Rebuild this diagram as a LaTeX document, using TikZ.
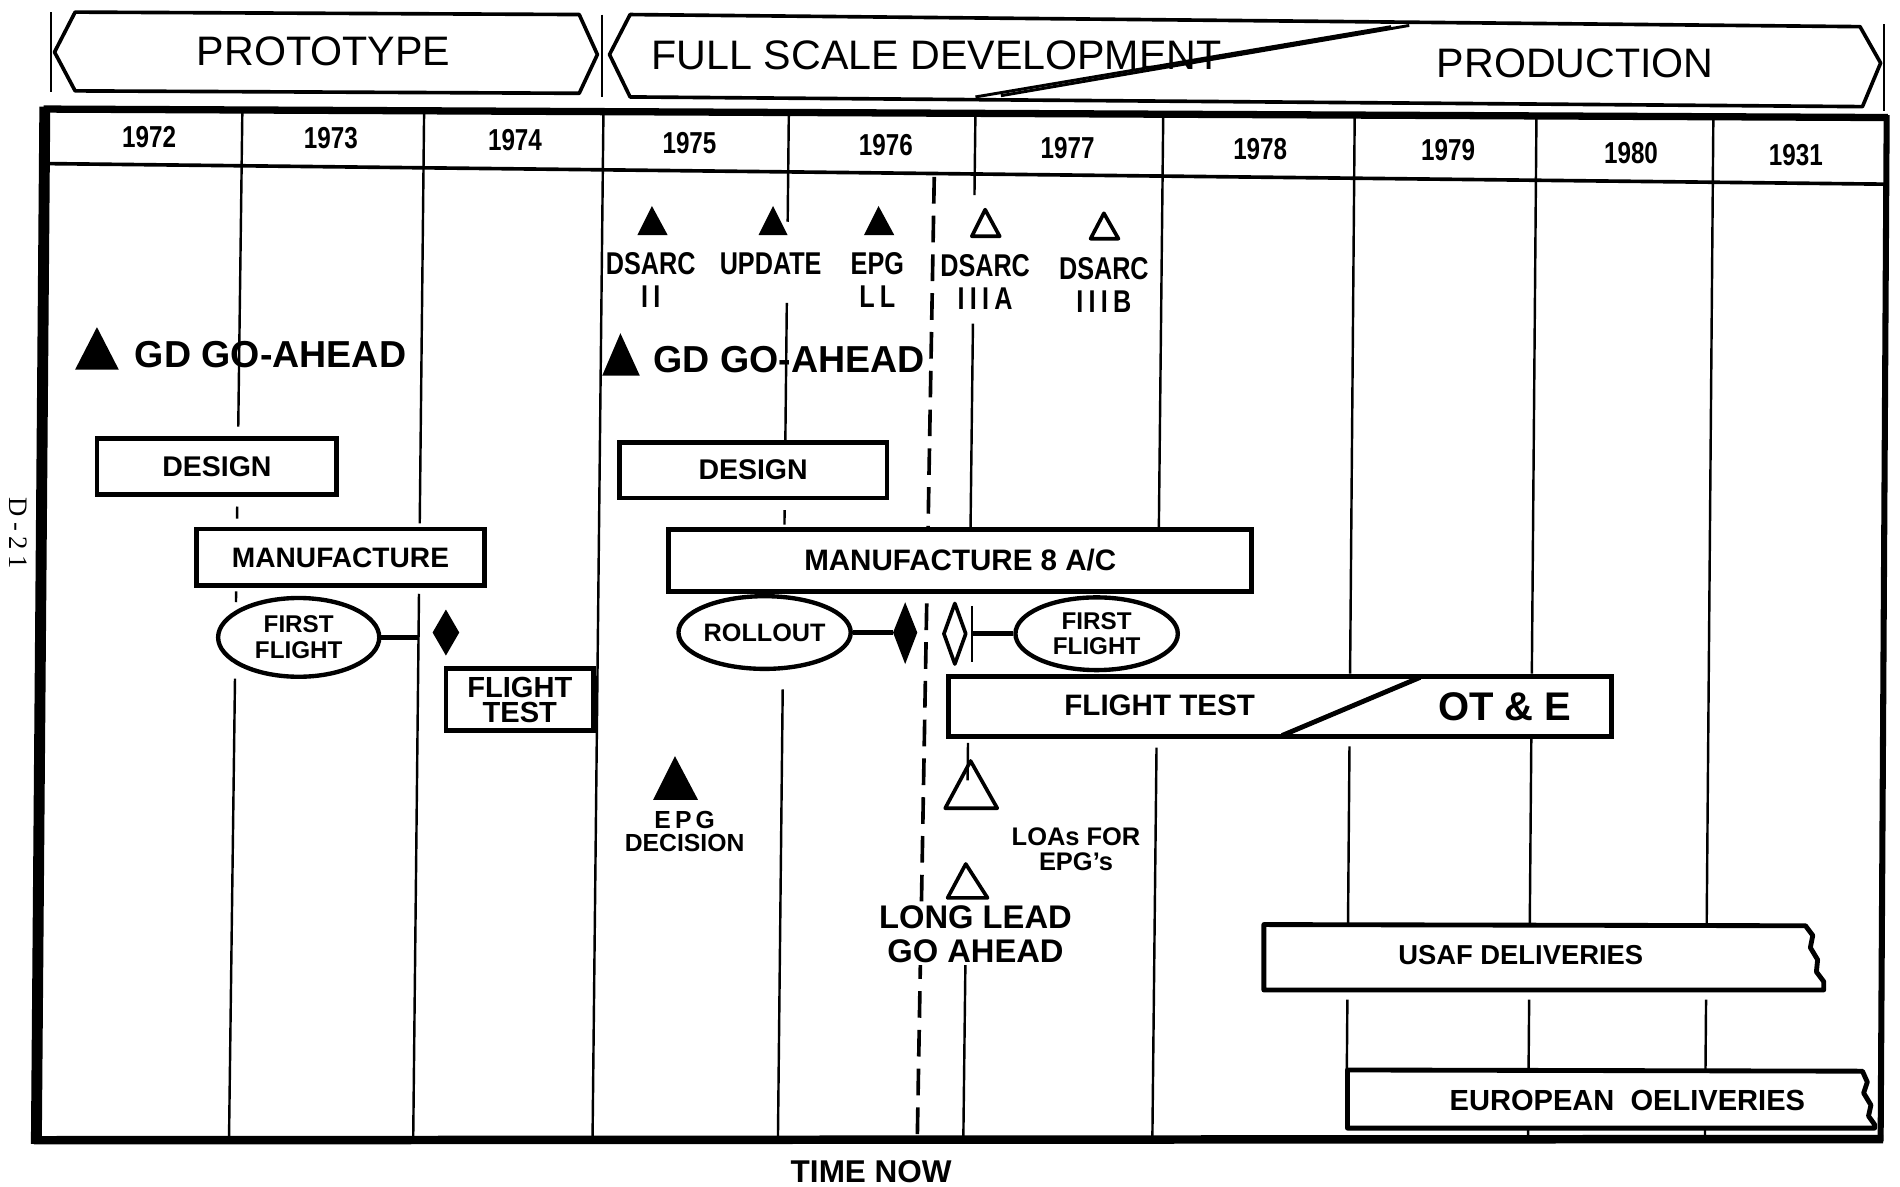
\documentclass[tikz,border=0pt]{standalone}
\usepackage{fontspec}
\setmainfont{Liberation Sans}
\newfontfamily\condfont{Liberation Sans}[FakeStretch=0.8]
\newfontfamily\serffont{Liberation Serif}
\usetikzlibrary{shapes.geometric}
\newcommand\fsz[2]{\fontsize{#1pt}{#2pt}\selectfont}
\newcommand\vseg[4]{\draw[yearline] ({#1+(#2-#1)*(#3-92)/848},#3) -- ({#1+(#2-#1)*(#4-92)/848},#4);}
\tikzset{
 yearline/.style={line width=1pt},
 bantext/.style={inner sep=0pt, font=\fsz{17}{20}},
 yeartext/.style={inner sep=0pt, font=\condfont\bfseries\fsz{12.5}{14}},
 msl/.style={inner sep=0pt, align=center, font=\condfont\bfseries\fsz{13}{13.5}},
 gdtext/.style={inner sep=0pt, anchor=west, font=\bfseries\fsz{15.5}{18}},
 boxnode/.style={draw, line width=2pt, fill=white, inner sep=0pt},
 ovalnode/.style={ellipse, draw, line width=1.8pt, fill=white, inner sep=0pt, align=center},
 conn/.style={line width=2pt},
 openmark/.style={line width=1.5pt, line join=round},
 plain/.style={inner sep=0pt, align=center},
}
\begin{document}
\begin{tikzpicture}[x=0.5pt,y=-0.5pt]
\useasboundingbox (0,0) rectangle (1568,979);
\fill[white] (0,0) rectangle (1568,979);

% ---------- phase banners
\draw[line width=1.5pt, line join=round] (62,10) -- (478,12) -- (493,45) -- (478,77) -- (62,75) -- (45,43) -- cycle;
\draw[line width=1.5pt, line join=round] (520,12) -- (1535,22) -- (1552,52) -- (1537,88) -- (520,80) -- (503,45) -- cycle;
\draw[line width=1pt] (42,10) -- (42,76);
\draw[line width=1pt] (497,12) -- (497,80);
\draw[line width=1pt] (1555,20) -- (1555,92);
\node[bantext] (proto) at (267,42) {PROTOTYPE};
\node[bantext] (fsd) at (773,46) {FULL SCALE DEVELOPMENT};
\node[bantext] (prod) at (1300,52) {PRODUCTION};
\draw[line width=1.2pt] (805,80) -- (1148,22);
\draw[line width=1.2pt] (826,79) -- (1163,21);

% ---------- year column lines
\vseg{200}{189}{91}{352}
\vseg{200}{189}{418}{428}
\vseg{200}{189}{488}{497}
\vseg{200}{189}{560}{940}
\vseg{350}{341}{91}{432}
\vseg{350}{341}{490}{940}
\vseg{498}{489}{92}{940}
\vseg{651}{642}{93}{183}
\vseg{651}{642}{250}{365}
\vseg{651}{642}{421}{433}
\vseg{651}{642}{569}{940}
\vseg{805}{795}{93}{161}
\vseg{805}{795}{267}{437}
\vseg{805}{795}{613}{644}
\vseg{805}{795}{792}{940}
\vseg{960}{951}{94}{437}
\vseg{960}{951}{617}{940}
\vseg{1118}{1111}{95}{556}
\vseg{1118}{1111}{616}{762}
\vseg{1118}{1111}{825}{882}
\vseg{1268}{1261}{95}{556}
\vseg{1268}{1261}{609}{762}
\vseg{1268}{1261}{825}{882}
\vseg{1268}{1261}{930}{940}
\vseg{1414}{1407}{96}{762}
\vseg{1414}{1407}{825}{882}
\vseg{1414}{1407}{930}{940}

% ---------- time now
\draw[line width=1.5pt, dash pattern=on 11pt off 5pt] (771,146) -- (757,940);

% ---------- frame
\draw[line width=3pt] (36,90) -- (1558,97);
\draw[line width=4.5pt] (37,88) -- (30,944);
\draw[line width=3.5pt] (28,941) -- (1554,940);
\draw[line width=2.5pt] (1557,95) -- (1552,942);
\draw[line width=1.5pt] (38,135) -- (1557,152);

% ---------- years
\foreach \xx/\yy/\tt in {123/113/1972, 273/114/1973, 425/116/1974, 569/118/1975, 731/120/1976, 881/122/1977, 1040/123/1978, 1195/124/1979, 1346/126/1980, 1482/128/1931}
  \node[yeartext] (y\tt) at (\xx,\yy) {\tt};

% ---------- milestones
\fill (538,170) -- (551,194) -- (526,194) -- cycle;
\fill (638,170) -- (650,194) -- (626,194) -- cycle;
\fill (725,170) -- (738,194) -- (713,194) -- cycle;
\draw[openmark] (813,173) -- (825,195) -- (802,195) -- cycle;
\draw[openmark] (911,176) -- (923,197) -- (900,197) -- cycle;
\node[msl] (dsarc2) at (537,231) {DSARC\\I\,I};
\node[msl] (update) at (636,218) {UPDATE};
\node[msl] (epgll) at (724,231) {EPG\\L\,L};
\node[msl] (dsarc3a) at (813,233) {DSARC\\I\,I\,I\,A};
\node[msl] (dsarc3b) at (911,235) {DSARC\\I\,I\,I\,B};

\fill (80,270) -- (98,305) -- (62,305) -- cycle;
\node[gdtext] (gd1) at (111,293) {GD GO-AHEAD};
\fill (512,275) -- (528,310) -- (497,310) -- cycle;
\node[gdtext] (gd2) at (539,297) {GD GO-AHEAD};

% ---------- prototype bars
\node[boxnode, minimum width=99pt, minimum height=23pt, font=\bfseries\fsz{11.75}{14}] (des1) at (179,385) {DESIGN};
\node[boxnode, minimum width=119pt, minimum height=23.5pt, font=\bfseries\fsz{11.6}{14}] (man1) at (281,460) {MANUFACTURE};
\node[ovalnode, minimum width=66.5pt, minimum height=32.5pt, font=\bfseries\fsz{10}{10.5}] (ff1) at (246.5,526) {FIRST\\FLIGHT};
\coordinate (l2hit) at (345,526);
\draw[conn] (ff1.east) -- (l2hit);
\fill (368,503) -- (379,522) -- (368,541) -- (357,522) -- cycle;
\node[boxnode, minimum width=61pt, minimum height=25.5pt, align=center, font=\bfseries\fsz{12}{10.5}] (ft1) at (429,577.5) {FLIGHT\\TEST};

% ---------- full scale development bars
\node[boxnode, minimum width=110.5pt, minimum height=23pt, font=\bfseries\fsz{11.75}{14}] (des2) at (621.5,388) {DESIGN};
\node[boxnode, minimum width=240.5pt, minimum height=25.5pt, font=\bfseries\fsz{12.2}{14}] (man2) at (792.5,462.5) {MANUFACTURE 8 A/C};
\node[ovalnode, minimum width=66pt, minimum height=30pt, font=\bfseries\fsz{10.4}{12}] (ro) at (631,522) {ROLLOUT};
\coordinate (d2w) at (737,522);
\draw[conn] (ro.east) -- (d2w);
\fill (747,497) -- (757,522) -- (747,548) -- (737,522) -- cycle;
\draw[openmark] (788,498) -- (797,523) -- (788,548) -- (779,523) -- cycle;
\draw[line width=1pt] (802,500) -- (802,546);
\coordinate (bar) at (802,523);
\node[ovalnode, minimum width=67pt, minimum height=30pt, font=\bfseries\fsz{10}{10.5}] (ff2) at (905,523) {FIRST\\FLIGHT};
\draw[conn] (bar) -- (ff2.west);

\node[boxnode, minimum width=273.5pt, minimum height=25pt] (ft2) at (1056.5,583) {};
\draw[line width=2pt] (1058,607) -- (1172,559);
\node[plain, font=\bfseries\fsz{12.2}{14}] (fttext) at (957,582) {FLIGHT TEST};
\node[plain, font=\bfseries\fsz{16.5}{18}] (ote) at (1242,583) {OT \& E};

\fill (557,624) -- (576,660) -- (539,660) -- cycle;
\node[plain, font=\bfseries\fsz{10.2}{9.5}] (epgdec) at (565,686) {E\,P\,G\\DECISION};

\draw[openmark] (801,628) -- (823,667) -- (780,667) -- cycle;
\node[plain, font=\bfseries\fsz{10.5}{10.5}] (loas) at (888,701) {LOAs FOR\\EPG’s};

\draw[openmark] (797,713) -- (815,741) -- (782,741) -- cycle;
\node[plain, inner sep=1pt, fill=white, font=\bfseries\fsz{13.5}{14}] (ll) at (805,771) {LONG LEAD\\GO AHEAD};

% ---------- deliveries
\draw[line width=2pt, fill=white, line join=round] (1043,763) -- (1490,764) -- (1496,772) -- (1494,782) -- (1500,792) -- (1499,802) -- (1505,810) -- (1505,817) -- (1043,817) -- cycle;
\node[plain, font=\bfseries\fsz{11.3}{14}] (usaf) at (1255,788) {USAF DELIVERIES};
\draw[line width=2pt, fill=white, line join=round] (1112,883) -- (1537,884) -- (1541,893) -- (1538,902) -- (1544,912) -- (1542,921) -- (1547,928) -- (1547,931) -- (1112,931) -- cycle;
\node[plain, font=\bfseries\fsz{12}{14}] (euro) at (1343,908) {EUROPEAN\ \ OELIVERIES};

% ---------- side and bottom labels
\node[plain, font=\bfseries\fsz{13}{14}] (tnow) at (719,967) {TIME NOW};
\node[plain, rotate=-90, font=\serffont\fsz{11}{12}\addfontfeature{LetterSpace=20}] (d21) at (15,440) {D-21};
\end{tikzpicture}
\end{document}
